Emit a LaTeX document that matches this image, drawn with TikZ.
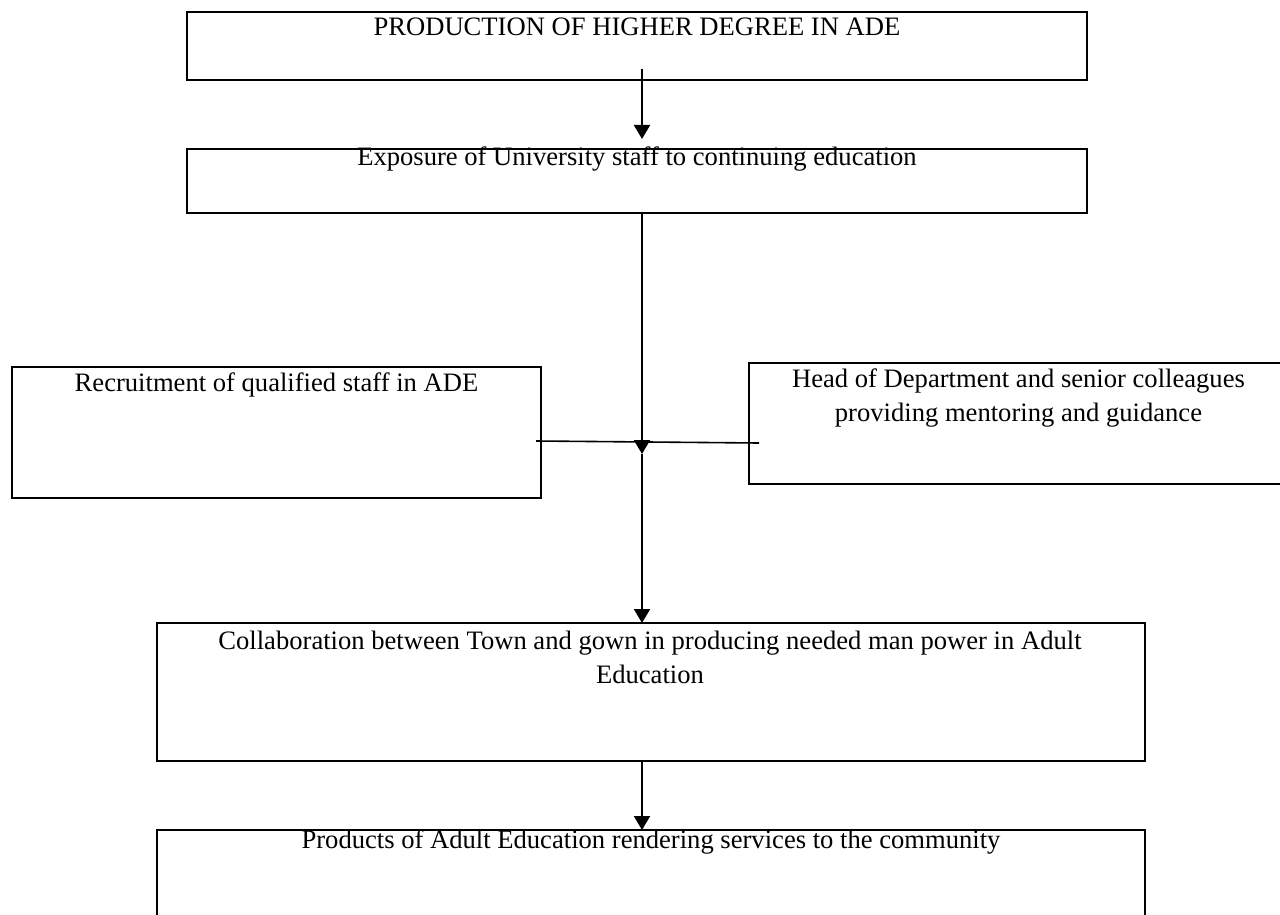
\documentclass[tikz,border=0pt]{standalone}
\usepackage{fontspec}
\setmainfont{Liberation Serif}
\usetikzlibrary{arrows.meta}
\begin{document}
\begin{tikzpicture}[x=0.5pt,y=-0.5pt,
  box/.style={draw, line width=1.1pt, rectangle, inner sep=0pt, outer sep=0pt},
  txt/.style={anchor=base, inner sep=0pt, outer sep=0pt, font=\fontsize{13.3}{17}\selectfont, align=center},
  arr/.style={line width=1pt, -{Triangle[length=7pt,width=8pt]}},
  ln/.style={line width=0.8pt}]
\useasboundingbox (0,0) rectangle (1280,915);
\clip (0,0) rectangle (1280,915);
% boxes
\node[box, minimum width=450pt, minimum height=34pt] (b1) at (637,46) {};
\node[box, minimum width=450pt, minimum height=32pt] (b2) at (637,181) {};
\node[box, minimum width=264.5pt, minimum height=65.5pt] (b3) at (276.5,432.5) {};
\node[box, minimum width=269.5pt, minimum height=60.5pt] (b4) at (1018.5,423.5) {};
\node[box, minimum width=494pt, minimum height=69pt] (b5) at (651,692) {};
\node[box, minimum width=494pt, minimum height=65pt] (b6) at (651,895) {};
% texts (base anchor = baseline of last line)
\node[txt] (t1) at (637,36) {PRODUCTION OF HIGHER DEGREE IN ADE};
\node[txt] (t2) at (637,166) {Exposure of University staff to continuing education};
\node[txt] (t3) at (276.5,391) {Recruitment of qualified staff in ADE};
\node[txt] (t4) at (1018.5,421) {Head of Department and senior colleagues\\providing mentoring and guidance};
\node[txt] (t5) at (650,683) {Collaboration between Town and gown in producing needed man power in Adult\\Education};
\node[txt] (t6) at (651,848) {Products of Adult Education rendering services to the community};
% connector points
\coordinate (a1s) at (642,69);
\coordinate (a1e) at (642,139);
\coordinate (b2s) at (642,213);
\coordinate (m) at (642,454);
\coordinate (b5n) at (642,623);
\coordinate (b5s) at (642,761);
\coordinate (b6n) at (642,830);
\coordinate (hl) at (536,441);
\coordinate (hr) at (759,443);
% connectors
\draw[arr] (a1s) -- (a1e);
\draw[ln] (hl) -- (hr);
\draw[arr] (b2s) -- (m);
\draw[arr] (m) -- (b5n);
\draw[arr] (b5s) -- (b6n);
\end{tikzpicture}
\end{document}
